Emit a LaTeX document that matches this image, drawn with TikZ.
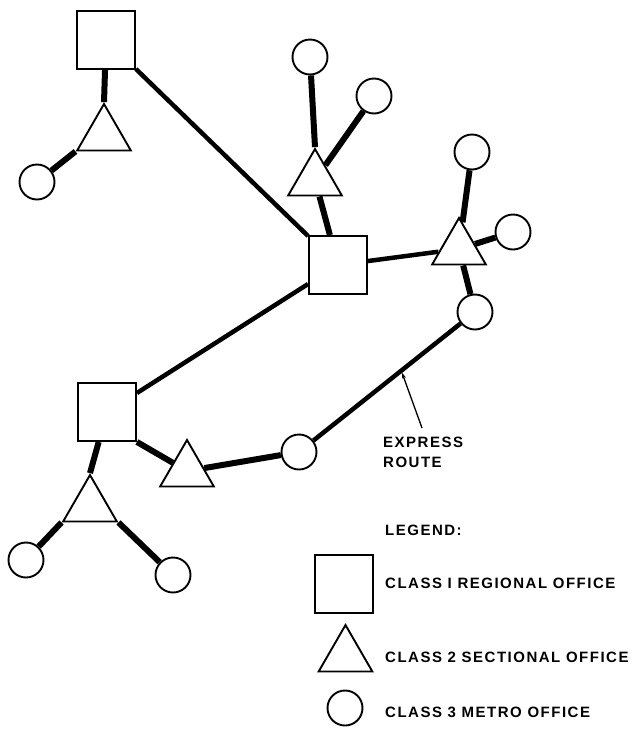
\documentclass[tikz,border=0pt]{standalone}
\usepackage{fontspec}
\newfontfamily\lblfont{Liberation Sans}[LetterSpace=10]
\usetikzlibrary{shapes.geometric,backgrounds,calc,arrows.meta}
\tikzset{
  office/.style={draw, line width=1.9pt, fill=white, inner sep=0pt},
  sq/.style={office, rectangle, minimum size=58pt},
  tri/.style={office, regular polygon, regular polygon sides=3, minimum size=62pt},
  circ/.style={office, circle, minimum size=35pt},
  heavy/.style={line width=6pt},
  trunk/.style={line width=4.5pt},
  lbl/.style={font=\lblfont\bfseries\fontsize{15}{17}\selectfont, anchor=west, inner sep=0pt},
  pointer/.style={line width=1.3pt, -{Stealth[length=6pt,width=4pt]}},
}
\begin{document}
\begin{tikzpicture}[x=1pt,y=-1pt]
\useasboundingbox (0,0) rectangle (633,729);
% offices
\node[sq]   (R1) at (106,40) {};
\node[tri]  (T1) at (104,135) {};
\node[circ] (C1) at (37,182) {};
\node[circ] (C2) at (310,57) {};
\node[circ] (C3) at (374,96) {};
\node[tri]  (T2) at (315,180) {};
\node[sq]   (R2) at (338,265) {};
\node[tri]  (T3) at (459,249) {};
\node[circ] (C4) at (472,152) {};
\node[circ] (C5) at (513,232) {};
\node[circ] (C6) at (475,312) {};
\node[circ] (C7) at (299,452) {};
\node[sq]   (R3) at (107,412) {};
\node[tri]  (T4) at (187,471) {};
\node[tri]  (T5) at (90,506) {};
\node[circ] (C8) at (26,560) {};
\node[circ] (C9) at (173,575) {};
% links
\begin{scope}[on background layer]
\draw[heavy] (R1) -- (T1.corner 1);
\draw[heavy] (T1.corner 2) -- (C1);
\draw[trunk] (R1) -- (R2);
\draw[heavy] (C2) -- (T2.corner 1);
\draw[heavy] (T2) -- (C3);
\draw[heavy] (T2) -- (R2);
\draw[trunk] (R2) -- (T3);
\draw[heavy] (T3) -- (C4);
\draw[heavy] (T3) -- (C5);
\draw[heavy] (T3) -- (C6);
\draw[trunk] (C6) -- (C7);
\draw[trunk] (R2) -- (R3);
\draw[heavy] (R3.south east) -- (T4);
\draw[heavy] (T4) -- (C7);
\draw[heavy] (R3) -- (T5.corner 1);
\draw[heavy] (T5.corner 2) -- (C8);
\draw[heavy] (T5.corner 3) -- (C9);
\end{scope}
% express route annotation
\coordinate (ex) at ($(C6)!0.415!(C7)+(0,2.5)$);
\coordinate (exlab) at (422,428);
\node[lbl] (EX) at (383,442) {EXPRESS};
\node[lbl] (RT) at (383,462) {ROUTE};
\draw[pointer] (exlab) -- (ex);
% legend
\node[lbl] (LG) at (385,530) {LEGEND:};
\node[sq]   (L1) at (344,584) {};
\node[lbl]  (L1t) at (385,583) {CLASS I REGIONAL OFFICE};
\node[tri]  (L2) at (345.5,656) {};
\node[lbl]  (L2t) at (385,657) {CLASS 2 SECTIONAL OFFICE};
\node[circ] (L3) at (345,708) {};
\node[lbl]  (L3t) at (385,712) {CLASS 3 METRO OFFICE};
\end{tikzpicture}
\end{document}
